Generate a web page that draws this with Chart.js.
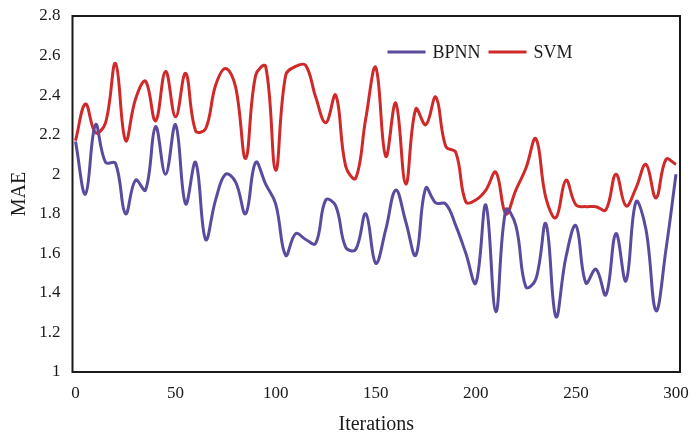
<!DOCTYPE html>
<html>
<head>
<meta charset="utf-8">
<script src="https://cdn.jsdelivr.net/npm/chart.js@4/dist/chart.umd.min.js"></script>
<style>
  html, body { margin: 0; padding: 0; background: #ffffff; }
  #wrap { width: 692px; height: 437px; }
</style>
</head>
<body>
<div id="wrap"><canvas id="c" width="692" height="437"></canvas></div>
<script>
// ---- data ----
const iterations = [0,5,10,15,20,25,30,35,40,45,50,55,60,65,70,75,80,85,90,95,100,
  105,110,115,120,125,130,135,140,145,150,155,160,165,170,175,180,185,190,195,200,
  205,210,215,220,225,230,235,240,245,250,255,260,265,270,275,280,285,290,295,300];

const bpnn = [2.165,1.90,2.25,2.06,2.055,1.80,1.97,1.92,2.24,2.00,2.25,1.85,2.06,1.67,1.87,2.00,1.96,1.80,2.06,1.95,1.85,
  1.59,1.70,1.67,1.65,1.87,1.84,1.63,1.62,1.80,1.55,1.72,1.92,1.76,1.59,1.93,1.855,1.85,1.74,1.60,1.45,
  1.845,1.305,1.82,1.74,1.43,1.47,1.75,1.28,1.58,1.74,1.45,1.52,1.39,1.70,1.46,1.86,1.72,1.31,1.62,2.00];

const svm = [2.17,2.355,2.21,2.26,2.56,2.17,2.38,2.47,2.27,2.52,2.29,2.51,2.22,2.23,2.45,2.535,2.44,2.08,2.50,2.545,2.02,
  2.50,2.545,2.55,2.39,2.26,2.40,2.04,1.98,2.28,2.54,2.09,2.36,1.95,2.33,2.25,2.39,2.14,2.11,1.86,1.87,
  1.92,2.01,1.80,1.92,2.03,2.18,1.88,1.78,1.97,1.845,1.836,1.836,1.82,2.00,1.84,1.93,2.05,1.88,2.075,2.05];

const seriesNames = ['BPNN', 'SVM'];
const xTickValues = [0, 50, 100, 150, 200, 250, 300];
const yTickValues = [1, 1.2, 1.4, 1.6, 1.8, 2, 2.2, 2.4, 2.6, 2.8];
const xTitle = 'Iterations';
const yTitle = 'MAE';

// ---- styling ----
const COLORS = ['#5b4a9e', '#d0292a'];
const SERIF = "'Liberation Serif', 'DejaVu Serif', serif";

function toPoints(vals) {
  return iterations.map((x, i) => ({ x: x, y: vals[i] }));
}

const framePlugin = {
  id: 'frame',
  afterDatasetsDraw(chart) {
    const { ctx, chartArea: a } = chart;
    ctx.save();
    ctx.strokeStyle = '#1a1a1a';
    ctx.lineWidth = 2;
    ctx.strokeRect(a.left, a.top, a.right - a.left, a.bottom - a.top);
    ctx.restore();
  },
  afterDraw(chart) {
    // in-plot legend
    const { ctx, chartArea: a } = chart;
    ctx.save();
    ctx.font = '18px ' + SERIF;
    ctx.textBaseline = 'middle';
    let x = a.left + 315;
    const y = a.top + 36;
    chart.data.datasets.forEach((ds) => {
      ctx.strokeStyle = ds.borderColor;
      ctx.lineWidth = 3;
      ctx.beginPath();
      ctx.moveTo(x, y);
      ctx.lineTo(x + 38, y);
      ctx.stroke();
      x += 45;
      ctx.fillStyle = '#1a1a1a';
      ctx.fillText(ds.label, x, y + 1);
      x += ctx.measureText(ds.label).width + 8;
    });
    ctx.restore();
  }
};

new Chart(document.getElementById('c'), {
  type: 'line',
  data: {
    datasets: [
      { label: seriesNames[0], data: toPoints(bpnn), borderColor: COLORS[0], backgroundColor: COLORS[0],
        borderWidth: 3, pointRadius: 0, tension: 0.4, fill: false },
      { label: seriesNames[1], data: toPoints(svm), borderColor: COLORS[1], backgroundColor: COLORS[1],
        borderWidth: 3, pointRadius: 0, tension: 0.4, fill: false }
    ]
  },
  options: {
    responsive: false,
    animation: false,
    devicePixelRatio: 1,
    layout: { padding: { left: 0, right: 12, top: 16, bottom: 0 } },
    plugins: { legend: { display: false }, tooltip: { enabled: false } },
    scales: {
      x: {
        type: 'linear',
        min: -1.5,
        max: 302,
        afterBuildTicks: (s) => { s.ticks = xTickValues.map(v => ({ value: v })); },
        afterFit: (s) => { s.height = 65; s.paddingLeft = 0; s.paddingRight = 0; },
        grid: { display: false, drawTicks: false },
        border: { display: false },
        ticks: { color: '#1a1a1a', font: { family: SERIF, size: 17 }, padding: 11, maxRotation: 0 },
        title: { display: true, text: xTitle, color: '#1a1a1a', font: { family: SERIF, size: 20 }, padding: { top: 0, bottom: 0 } }
      },
      y: {
        type: 'linear',
        min: 1,
        max: 2.8,
        afterBuildTicks: (s) => { s.ticks = yTickValues.map(v => ({ value: v })); },
        afterFit: (s) => { s.width = 72.5; s.paddingTop = 0; s.paddingBottom = 0; },
        grid: { display: false, drawTicks: false },
        border: { display: false },
        ticks: { color: '#1a1a1a', font: { family: SERIF, size: 17 }, padding: 12,
                 callback: (v) => String(Math.round(v * 10) / 10) },
        title: { display: true, text: yTitle, color: '#1a1a1a', font: { family: SERIF, size: 20 }, padding: { top: 8, bottom: 0 } }
      }
    }
  },
  plugins: [framePlugin]
});
</script>
</body>
</html>
